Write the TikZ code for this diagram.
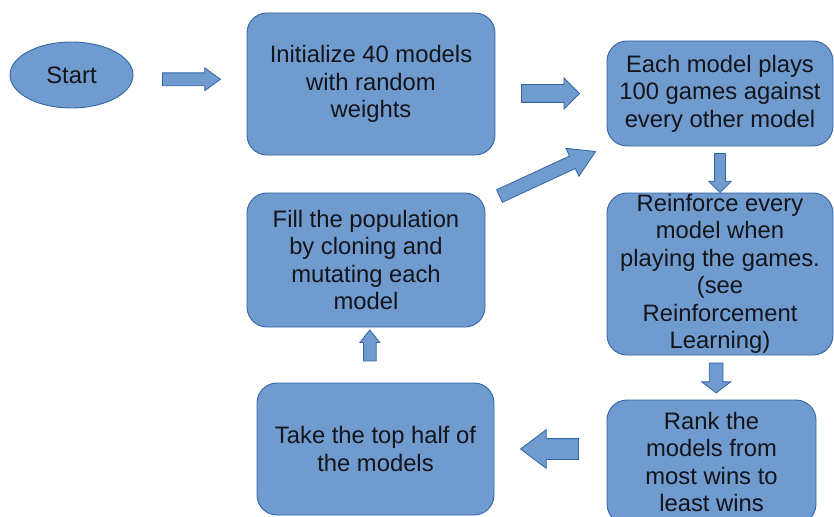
\documentclass[tikz,border=0pt]{standalone}
\usepackage{fontspec}
\setmainfont{Liberation Sans}
\usetikzlibrary{shapes.geometric,shapes.arrows}
\definecolor{boxfill}{RGB}{111,155,206}
\definecolor{boxline}{RGB}{52,101,164}
\definecolor{boxtext}{RGB}{20,20,26}

\begin{document}
\begin{tikzpicture}[x = 1pt, y = -1pt,
    box/.style = {rectangle, rounded corners = 20pt, draw = boxline, fill = boxfill, line width = 0.9pt,
                  text = boxtext, inner sep = 0pt, align = center, font = \fontsize{23.8}{27.5}\selectfont},
    blockarrow/.style = {single arrow, draw = boxline, fill = boxfill, line width = 0.8pt,
                         inner xsep = 0pt, minimum width = 0pt, single arrow head indent = 0pt}]

    \useasboundingbox (0,0) rectangle (834,516);
    \clip (0,0) rectangle (834,516);

    \node (start)     at ( 71.5,  75) [box, ellipse, minimum width = 123pt, minimum height = 66pt] {Start};
    \node (init)      at (371,    84) [box, minimum width = 248pt, minimum height = 142pt] {Initialize 40 models\\with random\\weights};
    \node (each)      at (720,  93.5) [box, minimum width = 226pt, minimum height = 105pt] {Each model plays\\100 games against\\every other model};
    \node (reinforce) at (720,   274) [box, minimum width = 226pt, minimum height = 162pt] {Reinforce every\\model when\\playing the games.\\(see\\Reinforcement\\Learning)};
    \node (rank)      at (711.5, 462) [box, minimum width = 209pt, minimum height = 124pt] {Rank the\\models from\\most wins to\\least wins};
    \node (take)      at (375.5, 449) [box, minimum width = 237pt, minimum height = 132pt] {Take the top half of\\the models};
    \node (fill)      at (366,   260) [box, minimum width = 238pt, minimum height = 134pt] {Fill the population\\by cloning and\\mutating each\\model};

    \foreach \from/\to/\where/\turn/\len/\shaft/\ext/\tip in {
        start.east/init.west/0.474/0/58/6/5/72,
        init.east |- each.west/each.west/0.455/0/58/8.5/6.5/90,
        each.south/reinforce.north/0.52/-90/39/5/6/90,
        reinforce.south/rank.north/0.45/-90/30/6.5/7.5/105,
        rank.west |- take.east/take.east/0.447/180/58/10/9/74,
        take.north/fill.south/0.6/90/31/6/3.5/77}
        \path (\from) -- node[blockarrow, pos = \where, rotate = \turn, minimum height = \len pt,
            inner ysep = \shaft pt, single arrow head extend = \ext pt, single arrow tip angle = \tip] {} (\to);

    \path ([yshift = -10pt]fill.north east) -- node[blockarrow, sloped, pos = 0.47, minimum height = 106pt,
        inner ysep = 6.5pt, single arrow head extend = 8.5pt, single arrow tip angle = 62] {} (each.south west);

\end{tikzpicture}
\end{document}
